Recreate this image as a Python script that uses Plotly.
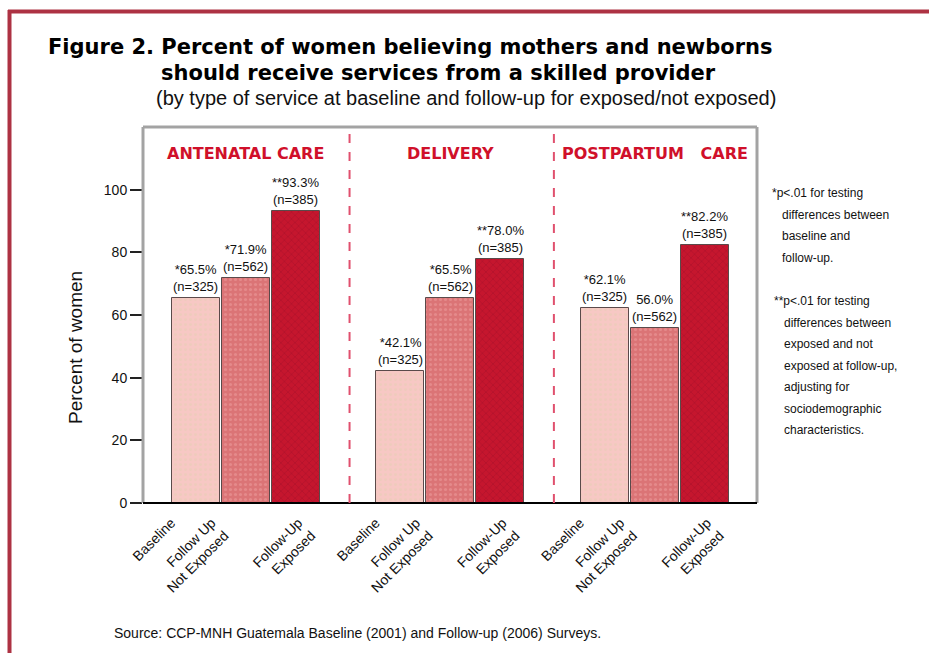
import plotly.graph_objects as go

# ---- data ----
groups = ["ANTENATAL CARE", "DELIVERY", "POSTPARTUM   CARE"]
rounds = ["Baseline", "Follow Up<br>Not Exposed", "Follow-Up<br>Exposed"]
baseline = [65.5, 42.1, 62.1]
followup_not_exposed = [71.9, 65.5, 56.0]
followup_exposed = [93.3, 78.0, 82.2]
sample_sizes = [325, 562, 385]
stars_baseline = ["*", "*", "*"]
stars_not_exposed = ["*", "*", ""]
stars_exposed = ["**", "**", "**"]

series = [baseline, followup_not_exposed, followup_exposed]
series_stars = [stars_baseline, stars_not_exposed, stars_exposed]

# ---- layout geometry (pixels) ----
W, H = 929, 653
L, R, T, B = 143, 172, 127, 150
PW, PH = W - L - R, H - T - B


def px(x):
    return (x - L) / PW


def py(y):
    return (H - B - y) / PH


GROUP_STEP = 4.17
BAR_STEP = 1.02
FIRST = 1.08
X_MAX = 12.53
# horizontal nudge of each rotated category label relative to its bar
LABEL_SHIFT = [-0.5, -0.7, 0.05]

fills = ["#f7c8c4", "#db7476", "#c5162e"]
dots = ["#e6cdb4", "#eea0a0", "#a30f28"]
pattern_shapes = [".", ".", "x"]

body = "Liberation Sans, Arial, sans-serif"
heavy = "Arial Black, DejaVu Sans, sans-serif"

fig = go.Figure()
tickvals, ticktext = [], []
annotations = []

for i, (vals, stars) in enumerate(zip(series, series_stars)):
    xs = [FIRST + g * GROUP_STEP + i * BAR_STEP for g in range(len(groups))]
    fig.add_trace(go.Bar(
        x=xs, y=vals, width=0.98,
        marker=dict(color=fills[i],
                    line=dict(color="#5a4a4a", width=1),
                    pattern=dict(shape=pattern_shapes[i], fgcolor=dots[i],
                                 size=5, solidity=0.3)),
        showlegend=False, hoverinfo="skip",
    ))
    for x, v, s in zip(xs, vals, stars):
        tickvals.append(x + LABEL_SHIFT[i])
        ticktext.append(rounds[i])
        annotations.append(dict(
            x=x, y=v, xref="x", yref="y", xanchor="center", yanchor="bottom", yshift=2,
            text=f"{s}{v:.1f}%<br>(n={sample_sizes[i]})", showarrow=False,
            font=dict(family=body, size=13, color="#111"),
        ))

# group headings
for g, name in enumerate(groups):
    annotations.append(dict(
        x=FIRST + g * GROUP_STEP + BAR_STEP, y=py(153), xref="x", yref="paper",
        xanchor="center", yanchor="middle",
        text=f"<b>{name}</b>", showarrow=False,
        font=dict(family=heavy, size=16, color="#d0102a"),
    ))

# titles, axis title and source line
annotations += [
    dict(x=px(410), y=py(47), xref="paper", yref="paper", showarrow=False,
         xanchor="center", yanchor="middle",
         text="<b>Figure 2. Percent of women believing mothers and newborns</b>",
         font=dict(family=heavy, size=21, color="#000")),
    dict(x=px(438), y=py(73), xref="paper", yref="paper", showarrow=False,
         xanchor="center", yanchor="middle",
         text="<b>should receive services from a skilled provider</b>",
         font=dict(family=heavy, size=21, color="#000")),
    dict(x=px(466), y=py(98), xref="paper", yref="paper", showarrow=False,
         xanchor="center", yanchor="middle",
         text="(by type of service at baseline and follow-up for exposed/not exposed)",
         font=dict(family=body, size=20, color="#111")),
    dict(x=px(75), y=py(348), xref="paper", yref="paper", showarrow=False,
         xanchor="center", yanchor="middle", textangle=-90,
         text="Percent of women",
         font=dict(family=body, size=19, color="#111")),
    dict(x=px(112), y=py(633), xref="paper", yref="paper", showarrow=False,
         xanchor="left", yanchor="middle",
         text="Source: CCP-MNH Guatemala Baseline (2001) and Follow-up (2006) Surveys.",
         font=dict(family=body, size=14, color="#111")),
]

# footnotes
note1 = ["*p<.01 for testing", "  differences between", "  baseline and", "  follow-up."]
note2 = ["**p<.01 for testing", "  differences between", "  exposed and not",
         "  exposed at follow-up,", "  adjusting for", "  sociodemographic",
         "  characteristics."]
for start_x, start_y, lines in [(770, 193, note1), (772, 301, note2)]:
    for k, line in enumerate(lines):
        annotations.append(dict(
            x=px(start_x), y=py(start_y + 21.5 * k), xref="paper", yref="paper",
            xanchor="left", yanchor="middle", showarrow=False,
            text=line.replace("  ", "&nbsp;&nbsp;&nbsp;"),
            font=dict(family=body, size=12, color="#111")))

shapes = [
    # plot box: textured grey sides, solid black base
    dict(type="line", xref="paper", yref="paper", x0=0, x1=0, y0=0, y1=1,
         line=dict(color="#a3a3a3", width=3)),
    dict(type="line", xref="paper", yref="paper", x0=0, x1=1, y0=1, y1=1,
         line=dict(color="#a3a3a3", width=3)),
    dict(type="line", xref="paper", yref="paper", x0=1, x1=1, y0=0, y1=1,
         line=dict(color="#a3a3a3", width=3)),
    dict(type="line", xref="paper", yref="paper", x0=0, x1=1, y0=0, y1=0,
         line=dict(color="#000", width=2)),
    # outer frame
    dict(type="line", xref="paper", yref="paper", x0=px(8), x1=px(W), y0=py(11.5), y1=py(11.5),
         line=dict(color="#ad3243", width=4)),
    dict(type="line", xref="paper", yref="paper", x0=px(9.5), x1=px(9.5), y0=py(10), y1=py(H),
         line=dict(color="#ad3243", width=4)),
]
# dashed separators between service groups
for g in range(1, len(groups)):
    xs = FIRST + g * GROUP_STEP - (GROUP_STEP - 2 * BAR_STEP) / 2 + 0.03
    shapes.append(dict(type="line", xref="x", yref="paper", x0=xs, x1=xs, y0=0, y1=1,
                       line=dict(color="#e0506e", width=2, dash="dash")))

fig.update_layout(
    width=W, height=H,
    margin=dict(l=L, r=R, t=T, b=B),
    paper_bgcolor="white", plot_bgcolor="white",
    bargap=0,
    xaxis=dict(range=[0, X_MAX], tickvals=tickvals, ticktext=ticktext,
               tickangle=-45, showgrid=False, zeroline=False, showline=False,
               ticks="", ticklabelstandoff=8,
               tickfont=dict(family=body, size=14, color="#111")),
    yaxis=dict(range=[0, 120], tickvals=[0, 20, 40, 60, 80, 100],
               showgrid=False, zeroline=False, showline=False,
               ticks="outside", ticklen=12, tickcolor="#222", tickwidth=2,
               tickfont=dict(family=body, size=14, color="#111")),
    annotations=annotations,
    shapes=shapes,
)

fig.write_html("out.html")
